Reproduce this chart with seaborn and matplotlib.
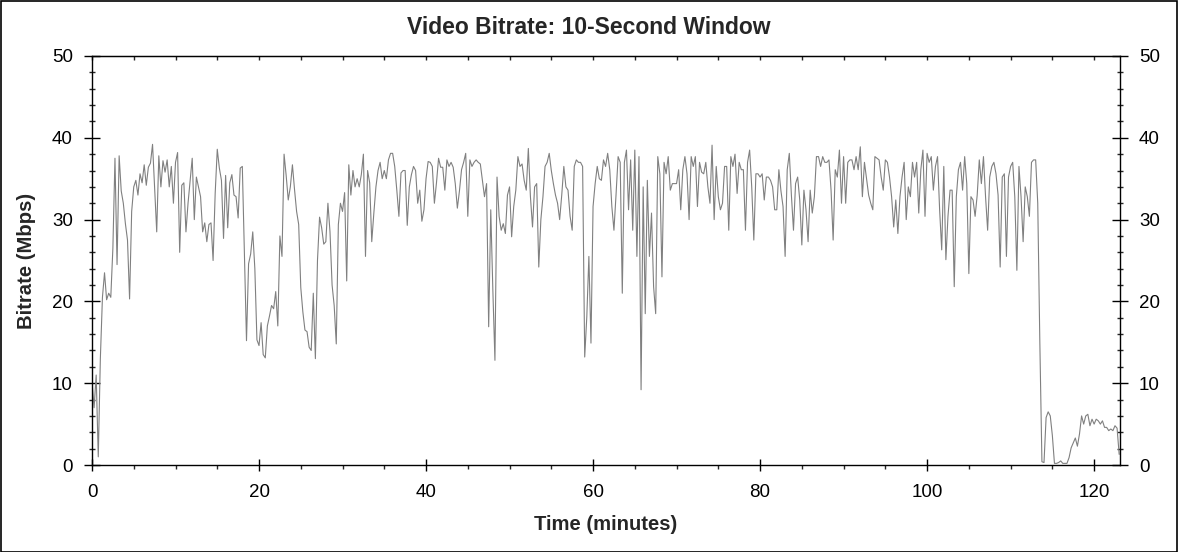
import numpy as np
import pandas as pd
import seaborn as sns
import matplotlib.pyplot as plt
from matplotlib.patches import Rectangle
from matplotlib.ticker import MultipleLocator

# Débit vidéo (Mbps), une valeur toutes les 15 s
bitrate_0_30 = [
    10.2, 7.0, 11.0, 1.0, 13.0, 20.5, 23.5, 20.2,
    21.0, 20.5, 26.5, 37.5, 24.5, 37.8, 33.5, 32.0,
    29.5, 27.5, 20.3, 31.0, 34.0, 34.8, 33.0, 35.6,
    34.5, 36.7, 34.2, 36.4, 36.9, 39.2, 33.8, 28.5,
    37.8, 34.0, 37.2, 35.8, 37.3, 34.0, 36.5, 32.0,
    37.0, 38.2, 26.0, 34.2, 34.5, 28.5, 32.0, 34.8,
    37.5, 30.0, 35.2, 34.0, 32.8, 28.5, 29.6, 27.3,
    29.4, 29.6, 25.0, 33.2, 38.6, 36.3, 34.8, 27.7,
    35.4, 29.0, 34.5, 35.5, 33.0, 32.8, 30.2, 36.3,
    36.5, 26.0, 15.2, 24.6, 25.8, 28.5, 24.0, 15.3,
    14.6, 17.4, 13.5, 13.1, 17.0, 18.2, 19.5, 19.1,
    21.2, 17.0, 28.0, 25.5, 38.0, 35.4, 32.4, 34.0,
    36.7, 33.7, 31.0, 29.4, 21.7, 18.7, 16.5, 16.3,
    14.4, 14.0, 21.0, 13.0, 25.0, 30.3, 29.0, 27.0,
    27.3, 32.0, 28.5, 22.0, 19.5, 14.8, 29.4, 32.0,
]
bitrate_30_60 = [
    31.0, 33.3, 22.5, 36.7, 33.0, 36.0, 34.0, 35.0,
    34.0, 35.5, 38.0, 25.5, 36.0, 34.5, 27.3, 30.8,
    34.0, 36.0, 37.0, 35.0, 36.0, 35.0, 37.3, 38.1,
    38.1, 36.5, 33.6, 30.4, 35.7, 36.0, 36.0, 29.3,
    34.0, 35.5, 36.5, 36.0, 32.0, 33.6, 29.8, 31.2,
    35.0, 37.1, 37.0, 36.5, 32.0, 34.5, 37.5, 36.4,
    36.4, 33.6, 37.3, 36.5, 37.0, 36.4, 34.4, 31.4,
    33.5, 36.1, 37.0, 38.1, 30.4, 37.3, 36.5, 37.0,
    37.3, 37.0, 36.8, 34.8, 32.8, 34.4, 16.9, 31.2,
    21.4, 12.8, 35.2, 30.4, 28.7, 29.5, 28.3, 33.0,
    34.0, 27.9, 31.6, 33.6, 37.7, 36.5, 36.8, 34.8,
    33.6, 38.7, 32.8, 29.1, 34.0, 34.4, 24.2, 30.0,
    32.8, 36.5, 37.0, 38.1, 36.0, 34.4, 33.0, 32.0,
    30.0, 33.0, 36.5, 34.0, 33.6, 30.4, 28.7, 36.5,
    37.3, 37.0, 37.0, 36.5, 13.2, 18.1, 25.5, 14.9,
]
bitrate_60_90 = [
    31.6, 34.4, 36.5, 35.0, 34.8, 37.3, 36.5, 38.1,
    36.1, 31.6, 28.7, 33.0, 37.7, 37.0, 21.0, 37.0,
    38.5, 31.2, 37.3, 28.7, 38.5, 25.5, 37.7, 9.2,
    34.0, 18.5, 34.8, 25.5, 30.8, 21.8, 18.5, 37.7,
    35.6, 23.0, 37.0, 35.6, 37.7, 33.6, 34.4, 34.4,
    34.4, 36.1, 31.2, 36.1, 37.7, 35.6, 30.0, 37.7,
    36.5, 37.7, 31.6, 37.0, 35.8, 35.6, 37.0, 34.0,
    32.0, 39.1, 30.0, 36.5, 32.8, 31.2, 32.0, 36.5,
    36.5, 28.7, 37.7, 36.5, 38.0, 33.2, 37.0, 36.1,
    36.1, 28.7, 37.0, 38.5, 34.0, 27.5, 35.6, 35.6,
    35.2, 35.6, 32.4, 35.2, 35.2, 34.8, 34.0, 31.2,
    31.2, 36.1, 33.5, 31.6, 25.5, 36.1, 38.1, 33.0,
    28.7, 34.4, 35.2, 32.4, 26.9, 33.6, 31.2, 27.3,
    33.6, 30.8, 32.8, 37.7, 37.7, 36.5, 37.7, 37.0,
    37.0, 37.3, 33.6, 27.5, 36.1, 35.2, 38.5, 32.0,
]
bitrate_90_end = [
    37.7, 32.0, 37.0, 37.3, 37.3, 36.1, 37.7, 36.1,
    38.9, 32.8, 37.0, 35.0, 33.0, 32.0, 31.2, 37.7,
    37.5, 37.3, 35.2, 33.6, 37.3, 37.0, 35.2, 32.8,
    29.1, 32.4, 28.3, 32.8, 35.2, 37.0, 30.0, 34.0,
    32.8, 37.0, 35.2, 37.0, 30.8, 36.1, 38.5, 30.4,
    38.1, 37.0, 37.7, 33.6, 36.5, 37.7, 31.2, 26.3,
    36.5, 25.1, 30.4, 33.6, 33.6, 21.8, 32.8, 36.1,
    37.0, 33.6, 37.7, 34.4, 23.4, 32.8, 32.4, 30.4,
    33.0, 37.3, 34.4, 37.7, 32.8, 28.7, 35.2, 36.5,
    37.0, 35.6, 33.0, 24.2, 35.2, 35.6, 25.5, 35.2,
    36.5, 37.0, 32.8, 23.8, 36.5, 32.8, 27.3, 34.0,
    32.8, 30.4, 37.0, 37.3, 37.3, 32.0, 15.0, 0.4,
    0.3, 5.8, 6.5, 6.0, 3.6, 0.2, 0.2, 0.3,
    0.5, 0.2, 0.2, 0.2, 0.9, 2.1, 2.7, 3.3,
    2.3, 3.8, 6.0, 5.0, 6.0, 6.2, 4.8, 5.6,
    5.0, 5.6, 5.4, 5.0, 5.4, 4.6, 4.6, 4.2,
    4.4, 4.2, 4.8, 4.5, 1.3,
]

bitrate = bitrate_0_30 + bitrate_30_60 + bitrate_60_90 + bitrate_90_end
step = 0.25  # minutes
df = pd.DataFrame({'Time': np.arange(len(bitrate)) * step, 'Bitrate': bitrate})

sns.set_style('ticks')
plt.rcParams['font.family'] = ['Liberation Sans', 'DejaVu Sans']

W, H = 1178, 552
fig = plt.figure(figsize=(W / 100, H / 100), dpi=100)
ax = fig.add_axes([92 / W, 1 - 465 / H, (1120 - 92) / W, (465 - 56) / H])

sns.lineplot(data=df, x='Time', y='Bitrate', color='#808080', linewidth=0.8,
             estimator=None, sort=False, ax=ax)

ax.set_xlim(0, 123.1)
ax.set_ylim(0, 50)
ax.set_xlabel('')
ax.set_ylabel('')

for s in ax.spines.values():
    s.set_color('black')
    s.set_linewidth(1)

ax.xaxis.set_major_locator(MultipleLocator(20))
ax.xaxis.set_minor_locator(MultipleLocator(5))
ax.yaxis.set_major_locator(MultipleLocator(10))
ax.yaxis.set_minor_locator(MultipleLocator(2))

ax.tick_params(axis='x', which='major', direction='inout', length=8, width=1,
               top=False, labelsize=13.5, pad=9.5, colors='black')
ax.tick_params(axis='x', which='minor', direction='out', length=3, width=1, top=False)
ax.tick_params(axis='y', which='major', direction='inout', length=11.5, width=1,
               left=True, right=True, labelleft=True, labelright=True,
               labelsize=13.5, pad=8, colors='black')
ax.tick_params(axis='y', which='minor', direction='inout', length=4.5, width=1,
               left=True, right=True)

top = ax.secondary_xaxis('top')
top.xaxis.set_major_locator(MultipleLocator(5))
top.tick_params(direction='in', length=3, width=1, labeltop=False)

fig.text(0.5, 1 - 28 / H, 'Video Bitrate: 10-Second Window', ha='center', va='center',
         fontsize=16.5, fontweight='bold')
fig.text(606 / W, 1 - 525 / H, 'Time (minutes)', ha='center', va='center',
         fontsize=14.6, fontweight='bold')
fig.text(27 / W, 1 - 261 / H, 'Bitrate (Mbps)', ha='center', va='center',
         rotation=90, fontsize=14.6, fontweight='bold')

fig.patches.append(Rectangle((0.5 / W, 0.5 / H), 1 - 1.5 / W, 1 - 1.5 / H,
                             transform=fig.transFigure, fill=False,
                             edgecolor='black', linewidth=1.2))

fig.savefig('out.png', dpi=100, facecolor='white')
